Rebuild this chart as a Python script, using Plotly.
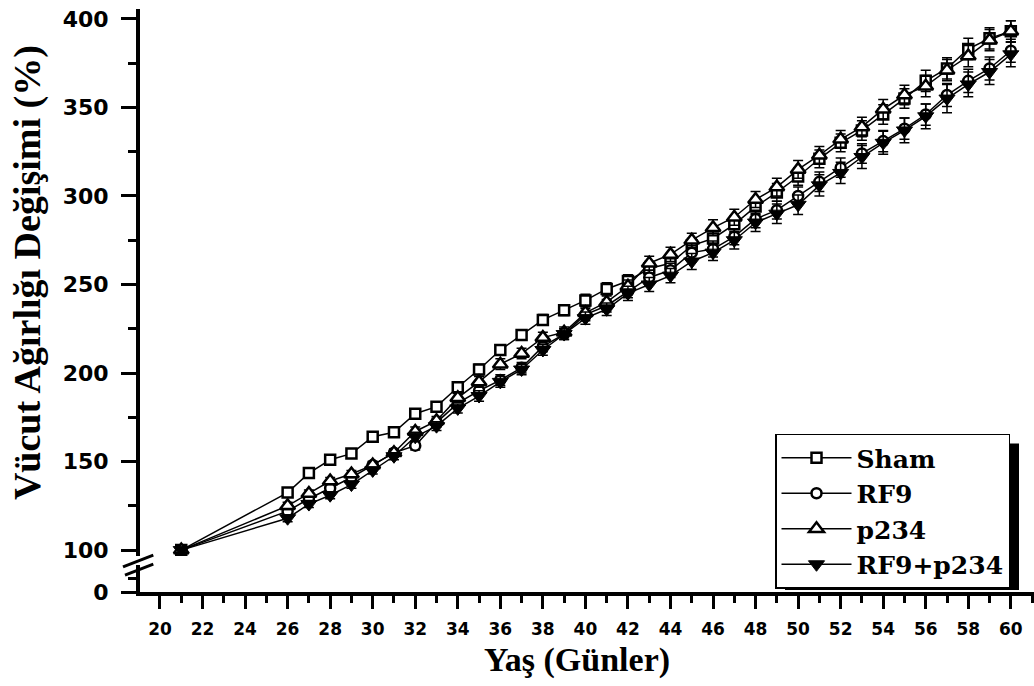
import plotly.graph_objects as go

# Age in days
days = [21, 26, 27, 28, 29, 30, 31, 32, 33, 34, 35, 36, 37, 38, 39, 40, 41, 42, 43, 44,
        45, 46, 47, 48, 49, 50, 51, 52, 53, 54, 55, 56, 57, 58, 59, 60]

# Body weight change (%) per group
sham = [100, 132.5, 143.5, 151, 154.5, 164, 166.5, 177, 181, 192, 202, 213, 221.5, 230, 235.5, 241,
        247.5, 252, 259, 262, 272, 276, 284, 294, 302, 311, 321, 330, 337, 346, 355, 365, 372, 383, 389, 393]
rf9 = [100, 122, 129, 135, 141, 148, 155, 159, 172, 183, 190, 196, 203, 215, 222, 233,
       238, 246, 254, 258, 268, 270, 277, 287, 292, 300, 308, 316, 324, 331, 338, 346, 357, 365, 372, 382]
p234 = [100, 125, 132, 139, 143, 148, 155, 167, 173, 186, 195, 205, 211, 220, 223, 234,
        240, 249, 262, 267, 275, 282, 288, 298, 305, 315, 323, 332, 339, 349, 357, 362, 371, 379, 388, 393]
rf9_p234 = [100, 118, 126, 131, 137, 145, 153, 164, 170, 180, 187, 195, 202, 213, 222, 231,
            236, 245, 250, 255, 263, 268, 275, 285, 290, 295, 306, 313, 322, 330, 337, 345, 355, 363, 370, 380]

# Standard errors
sham_err = [0, 2, 2, 2, 2, 2, 2, 2.5, 2.5, 2.5, 3, 3, 3, 3, 3, 3.5,
            3.5, 3.5, 4, 4, 4, 4.5, 4.5, 4.5, 5, 5, 5, 5, 5.5, 5.5, 5.5, 6, 6, 6, 6, 6]
rf9_err = [0, 2, 2, 2, 2, 2, 2, 2.5, 2.5, 2.5, 3, 3, 3, 3, 3, 3.5,
           3.5, 3.5, 4, 4, 4, 4.5, 4.5, 5, 5, 5, 5.5, 5.5, 5.5, 6, 6, 6, 6.5, 6.5, 6.5, 6.5]
p234_err = [0, 2, 2, 2, 2, 2, 2, 2.5, 2.5, 2.5, 3, 3, 3, 3, 3, 3.5,
            3.5, 3.5, 4, 4, 4, 4.5, 4.5, 4.5, 5, 5, 5, 5, 5.5, 5.5, 5.5, 6, 6, 6, 6, 6]
rf9_p234_err = [0, 2, 2, 2, 2, 2, 2, 2.5, 2.5, 2.5, 3, 3, 3, 3, 3, 3.5,
                3.5, 4, 4, 4, 4.5, 4.5, 5, 5, 5.5, 5.5, 6, 6, 6.5, 6.5, 7, 7, 8, 7, 7, 7]

x_ticks = list(range(20, 61, 2))
y_ticks = [100, 150, 200, 250, 300, 350, 400]
y_ticks_low = [0]

W, H = 1034, 686
ML, MB, MT, MR = 140, 94, 0, 0
PW, PH = W - ML - MR, H - MB - MT


def px_x(px):
    return (px - ML) / PW


def px_y(py):
    return (H - MB - py) / PH


series = [
    ("Sham", sham, sham_err, dict(symbol="square", size=10, color="white", line=dict(color="black", width=2.5))),
    ("RF9", rf9, rf9_err, dict(symbol="circle", size=10, color="white", line=dict(color="black", width=2.5))),
    ("p234", p234, p234_err, dict(symbol="triangle-up", size=13, color="white", line=dict(color="black", width=2.5))),
    ("RF9+p234", rf9_p234, rf9_p234_err, dict(symbol="triangle-down", size=14, color="black", line=dict(color="black", width=1))),
]

fig = go.Figure()
for name, vals, err, mk in series:
    fig.add_trace(go.Scatter(
        x=days, y=vals, name=name, mode="lines+markers",
        line=dict(color="black", width=1.5),
        marker=mk,
        error_y=dict(type="data", array=err, visible=True, color="black", thickness=1.5, width=5),
        xaxis="x", yaxis="y",
    ))

# empty trace that registers the lower (0) segment of the broken y axis
fig.add_trace(go.Scatter(x=[], y=[], xaxis="x", yaxis="y2", showlegend=False, hoverinfo="skip"))

tick_font_y = dict(family="DejaVu Sans", size=22, color="black", weight="bold")
tick_font_x = dict(family="DejaVu Sans", size=17, color="black", weight="bold")

fig.update_layout(
    width=W, height=H,
    margin=dict(l=ML, r=MR, t=MT, b=MB, pad=0),
    paper_bgcolor="white", plot_bgcolor="white",
    showlegend=True,
    xaxis=dict(
        range=[19.06, 61.09], anchor="y2", showline=True, linewidth=4, linecolor="black",
        tickmode="array", tickvals=x_ticks, ticks="outside", ticklen=13, tickwidth=3, tickcolor="black",
        tickfont=tick_font_x, ticklabelstandoff=6,
        minor=dict(dtick=1, tick0=0, ticks="outside", ticklen=7, tickwidth=3, tickcolor="black"),
        showgrid=False, zeroline=False,
    ),
    yaxis=dict(
        domain=[px_y(556), px_y(7)], range=[96.6, 405.6], anchor="x",
        showline=True, linewidth=4, linecolor="black",
        tickmode="array", tickvals=y_ticks, ticks="outside", ticklen=15, tickwidth=3, tickcolor="black",
        tickfont=tick_font_y, ticklabelstandoff=8,
        minor=dict(tickvals=[125, 175, 225, 275, 325, 375], ticks="outside", ticklen=8, tickwidth=3, tickcolor="black"),
        showgrid=False, zeroline=False,
    ),
    yaxis2=dict(
        domain=[0, px_y(565)], range=[0, 50], anchor="x",
        showline=True, linewidth=4, linecolor="black",
        tickmode="array", tickvals=y_ticks_low, ticks="outside", ticklen=15, tickwidth=3, tickcolor="black",
        tickfont=tick_font_y, ticklabelstandoff=8,
        minor=dict(tickvals=[25], ticks="outside", ticklen=8, tickwidth=3, tickcolor="black"),
        showgrid=False, zeroline=False,
    ),
    legend=dict(
        x=px_x(775), y=px_y(433), xanchor="left", yanchor="top",
        bgcolor="white", bordercolor="black", borderwidth=1.5,
        font=dict(family="DejaVu Serif", size=25, color="black", weight="bold"),
        itemwidth=70, tracegroupgap=0,
    ),
)

# axis break marks
for (x0, y0, x1, y1) in [(123, 566.7, 153.3, 555), (125, 575, 153.3, 564)]:
    fig.add_shape(type="line", xref="paper", yref="paper",
                  x0=px_x(x0), y0=px_y(y0), x1=px_x(x1), y1=px_y(y1),
                  line=dict(color="black", width=3))

# legend drop shadow
fig.add_shape(type="rect", xref="paper", yref="paper", layer="below",
              x0=px_x(785), x1=px_x(1019), y0=px_y(590), y1=px_y(443),
              fillcolor="black", line=dict(width=0))

fig.add_annotation(text="<b>Yaş (Günler)</b>", xref="paper", yref="paper",
                   x=px_x(577), y=px_y(660), xanchor="center", yanchor="middle", showarrow=False,
                   font=dict(family="Liberation Serif", size=34, color="black"))
fig.add_annotation(text="<b>Vücut Ağırlığı Değişimi (%)</b>", xref="paper", yref="paper",
                   x=px_x(27), y=px_y(272), xanchor="center", yanchor="middle", showarrow=False,
                   textangle=-90,
                   font=dict(family="Liberation Serif", size=38, color="black"))

fig.write_html("out.html")
